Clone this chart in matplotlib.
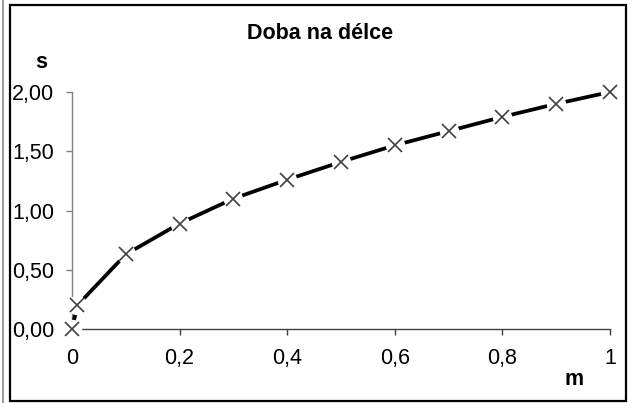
import matplotlib
matplotlib.use('Agg')
import matplotlib.pyplot as plt
from matplotlib.patches import Rectangle
from matplotlib.lines import Line2D

# data
delka = [0, 0.01, 0.1, 0.2, 0.3, 0.4, 0.5, 0.6, 0.7, 0.8, 0.9, 1.0]
doba = [0.00, 0.20, 0.63, 0.89, 1.10, 1.26, 1.41, 1.55, 1.67, 1.79, 1.90, 2.00]
x_ticks = [0, 0.2, 0.4, 0.6, 0.8, 1.0]
x_labels = ['0', '0,2', '0,4', '0,6', '0,8', '1']
y_ticks = [0, 0.5, 1.0, 1.5, 2.0]
y_labels = ['0,00', '0,50', '1,00', '1,50', '2,00']

W, H = 634, 403
plt.rcParams.update({
    'font.family': ['Liberation Sans', 'DejaVu Sans'],
    'font.size': 15.5,
})

fig = plt.figure(figsize=(W / 100, H / 100), dpi=100)
ax = fig.add_axes([72 / W, 1 - 329 / H, (610 - 72) / W, (329 - 92) / H])

# line, then white discs to break it around the markers, then the crosses
ax.plot(delka, doba, color='black', linewidth=2.7, solid_capstyle='butt',
        zorder=3, clip_on=False)
ax.plot(delka, doba, linestyle='none', marker='o', markersize=14,
        markerfacecolor='white', markeredgecolor='none', zorder=4, clip_on=False)
ax.plot(delka, doba, linestyle='none', marker='x', markersize=10,
        markeredgewidth=1.2, color='#404040', zorder=5, clip_on=False)

ax.set_xlim(0, 1)
ax.set_ylim(0, 2)
ax.set_xticks(x_ticks, x_labels)
ax.set_yticks(y_ticks, y_labels)

for side in ['top', 'right']:
    ax.spines[side].set_visible(False)
ax.spines['left'].set_color('#808080')
ax.spines['bottom'].set_color('#404040')
ax.spines['left'].set_linewidth(1.0)
ax.spines['bottom'].set_linewidth(1.0)
ax.tick_params(axis='y', direction='out', length=4, width=1.0,
               color='#808080', pad=9, labelsize=15.5)
ax.tick_params(axis='x', direction='out', length=4, width=1.0,
               color='#404040', pad=10, labelsize=15.5)

# titles and axis names placed like the original sheet chart
fig.text(320 / W, 1 - 39 / H, 'Doba na délce', ha='center', va='baseline',
         fontsize=15.5, fontweight='bold')
fig.text(41 / W, 1 - 68 / H, 's', ha='center', va='baseline',
         fontsize=15.5, fontweight='bold')
fig.text(574 / W, 1 - 385 / H, 'm', ha='center', va='baseline',
         fontsize=15.5, fontweight='bold')

# chart frame and the gray edge at the far left
fig.patches.append(Rectangle((10 / W, 1 - 401 / H), 616 / W, 396 / H,
                             transform=fig.transFigure, fill=False,
                             edgecolor='black', linewidth=1.6))
fig.lines.append(Line2D([3 / W, 3 / W], [0, 1], transform=fig.transFigure,
                        color='#a0a0a0', linewidth=1.5))

fig.savefig('out.png', dpi=100)
